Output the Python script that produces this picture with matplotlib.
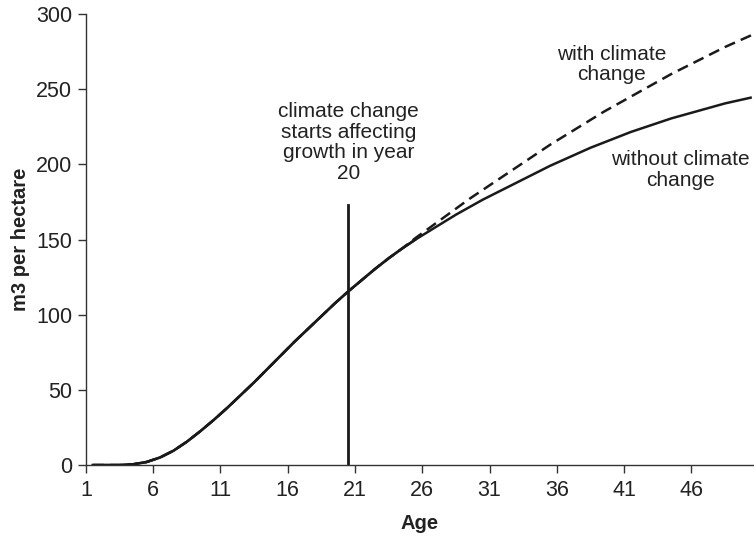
import matplotlib
matplotlib.use("Agg")
import matplotlib.pyplot as plt
import numpy as np

plt.rcParams['font.family'] = ['Liberation Sans', 'DejaVu Sans']

ages = list(range(1, 51))
without_cc = [0, 0, 0, 0.5, 2, 5, 9.5, 15.5, 22.5, 30,
              38, 46.5, 55, 64, 73, 82, 90.5, 99, 107.5, 115.5,
              123, 130.5, 137.5, 144, 150, 155.5, 161, 166.5, 171.5, 176.5,
              181, 185.5, 190, 194.5, 199, 203, 207, 211, 214.5, 218,
              221.5, 224.5, 227.5, 230.5, 233, 235.5, 238, 240.5, 242.5, 244.5]
with_cc = without_cc[:24] + [151, 157.5, 164, 170.5, 177, 183,
                             189, 195, 201, 207, 213, 218.5, 224, 229.5, 235, 240,
                             245, 250, 255, 260, 264.5, 269, 273.5, 278, 282, 286]
impact_year = 20
impact_line_top = 173
xtick_labels = [1, 6, 11, 16, 21, 26, 31, 36, 41, 46]
yticks = [0, 50, 100, 150, 200, 250, 300]

fig = plt.figure(figsize=(7.54, 5.37), dpi=100)
ax = fig.add_axes([0.114, 0.134, 0.886, 0.840])

x = np.array(ages) + 0.5  # category centres
col = '#1a1a1a'
ax.plot(x, without_cc, color=col, lw=1.8, solid_capstyle='butt')
ax.plot(x, with_cc, color=col, lw=1.8, ls=(0, (4.5, 2.5)))
ax.plot(x[:25], without_cc[:25], color=col, lw=1.8)
ax.plot([impact_year + 0.5, impact_year + 0.5], [0, impact_line_top], color=col, lw=2.0)

ax.set_xlim(1, 50.66)
ax.set_ylim(0, 300)
ax.set_xticks(xtick_labels)
ax.set_xticklabels([str(v) for v in xtick_labels])
ax.set_yticks(yticks)

for s in ['top', 'right']:
    ax.spines[s].set_visible(False)
for s in ['left', 'bottom']:
    ax.spines[s].set_color('#333333')
    ax.spines[s].set_linewidth(1.0)
ax.tick_params(axis='both', direction='out', length=6, width=1.0, color='#333333',
               labelsize=15.5, labelcolor='#222222')
ax.tick_params(axis='x', pad=5)
ax.tick_params(axis='y', pad=4)

ax.set_xlabel('Age', fontsize=14.5, fontweight='bold', color='#222222', labelpad=9)
ax.set_ylabel('m3 per hectare', fontsize=14.5, fontweight='bold', color='#222222', labelpad=4)

ax.text(20.5, 214.5, 'climate change\nstarts affecting\ngrowth in year\n20', ha='center', va='center',
        fontsize=15, color='#222222', linespacing=1.1)
ax.text(40.1, 266.5, 'with climate\nchange', ha='center', va='center', fontsize=15,
        color='#222222', linespacing=1.1)
ax.text(45.2, 196.3, 'without climate\nchange', ha='center', va='center', fontsize=15,
        color='#222222', linespacing=1.1)

fig.savefig('out.png', dpi=100)
